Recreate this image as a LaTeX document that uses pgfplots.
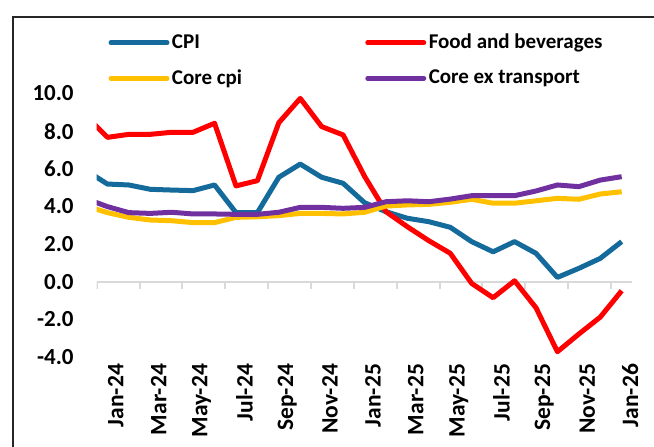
\documentclass[border=0pt]{standalone}
\usepackage{fontspec}
\setmainfont{Carlito}
\usepackage{pgfplots}
\pgfplotsset{compat=1.18}
\definecolor{cpiblue}{RGB}{20,106,155}
\definecolor{foodred}{RGB}{255,0,0}
\definecolor{coregold}{RGB}{255,192,0}
\definecolor{corepurple}{RGB}{112,48,160}
\begin{document}
\begin{tikzpicture}
\useasboundingbox (-48.35pt,-44.5pt) rectangle (278.65pt,178.5pt);
\clip (-48.35pt,-44.5pt) rectangle (278.65pt,178.5pt);
\draw[line width=0.8pt, black!85] (-41.85pt,-50pt) -- (-41.85pt,170pt) -- (290pt,170pt);
\begin{axis}[
  at={(0pt,0pt)}, anchor=south west,
  scale only axis, width=267.85pt, height=131.75pt,
  xmin=-0.5, xmax=24.5, ymin=-4, ymax=10,
  axis line style={draw=none},
  major tick length=0pt,
  xtick={0,2,...,24},
  xticklabels={Jan-24,Mar-24,May-24,Jul-24,Sep-24,Nov-24,Jan-25,Mar-25,May-25,Jul-25,Sep-25,Nov-25,Jan-26},
  ytick={-4,-2,...,10},
  yticklabels={-4.0,-2.0,0.0,2.0,4.0,6.0,8.0,10.0},
  xticklabel style={rotate=90, anchor=east, yshift=-4.2pt, font=\bfseries\fontsize{11.75}{13}\selectfont},
  yticklabel style={anchor=east, xshift=-8pt, font=\bfseries\fontsize{11.5}{13}\selectfont},
  clip=true,
  legend columns=2,
  legend cell align=left,
  legend image code/.code={\draw[#1, line cap=round] (0pt,0pt) -- (28pt,0pt);},
  legend style={at={(axis description cs:0,1)}, anchor=west, xshift=5.9pt, yshift=16.5pt,
    draw=none, fill=none, inner sep=0pt, outer sep=0pt, row sep=6.5pt,
    nodes={inner sep=1.25pt},
    font=\bfseries\fontsize{10.5}{12}\selectfont,
    /tikz/every even column/.append style={column sep=60.3pt}},
  every axis plot/.append style={line width=2.5pt, line join=round},
]
% zero line and category tick marks
\addplot[black!15, line width=1pt, forget plot] coordinates {(-0.5,0) (24.5,0)};
\addplot[black!15, line width=1pt, ycomb, forget plot] coordinates {
(-0.5,-0.37) (1.5,-0.37) (3.5,-0.37) (5.5,-0.37) (7.5,-0.37) (9.5,-0.37) (11.5,-0.37)
(13.5,-0.37) (15.5,-0.37) (17.5,-0.37) (19.5,-0.37) (21.5,-0.37) (23.5,-0.37)};
% CPI
\addplot[cpiblue] coordinates {
(-1,5.91) (0,5.19) (1,5.14) (2,4.91) (3,4.87) (4,4.84) (5,5.14) (6,3.67) (7,3.67)
(8,5.55) (9,6.25) (10,5.55) (11,5.23) (12,4.20) (13,3.72) (14,3.37) (15,3.19)
(16,2.89) (17,2.13) (18,1.59) (19,2.13) (20,1.51) (21,0.23) (22,0.71) (23,1.24) (24,2.13)};
\addlegendentry{CPI}
% Food and beverages
\addplot[foodred] coordinates {
(-1,8.81) (0,7.67) (1,7.83) (2,7.83) (3,7.94) (4,7.94) (5,8.42) (6,5.09) (7,5.37)
(8,8.45) (9,9.74) (10,8.24) (11,7.80) (12,5.60) (13,3.72) (14,2.92) (15,2.18)
(16,1.51) (17,-0.09) (18,-0.85) (19,0.05) (20,-1.38) (21,-3.72) (22,-2.78) (23,-1.88) (24,-0.48)};
\addlegendentry{Food and beverages}
% Core cpi
\addplot[coregold] coordinates {
(-1,4.03) (0,3.67) (1,3.42) (2,3.28) (3,3.24) (4,3.14) (5,3.14) (6,3.42) (7,3.45)
(8,3.51) (9,3.63) (10,3.63) (11,3.60) (12,3.69) (13,4.02) (14,4.08) (15,4.11)
(16,4.22) (17,4.38) (18,4.17) (19,4.17) (20,4.30) (21,4.43) (22,4.38) (23,4.66) (24,4.78)};
\addlegendentry{Core cpi}
% Core ex transport
\addplot[corepurple] coordinates {
(-1,4.41) (0,3.99) (1,3.67) (2,3.63) (3,3.69) (4,3.60) (5,3.60) (6,3.58) (7,3.58)
(8,3.69) (9,3.95) (10,3.95) (11,3.90) (12,3.95) (13,4.25) (14,4.30) (15,4.25)
(16,4.39) (17,4.57) (18,4.57) (19,4.57) (20,4.82) (21,5.14) (22,5.05) (23,5.40) (24,5.58)};
\addlegendentry{Core ex transport}
\end{axis}
\end{tikzpicture}
\end{document}
